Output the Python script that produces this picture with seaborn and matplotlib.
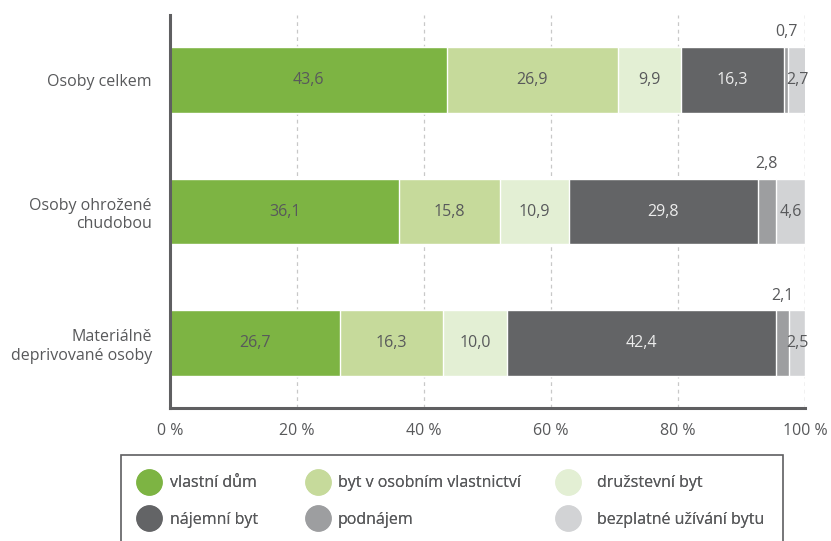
import numpy as np
import pandas as pd
import matplotlib
matplotlib.use("Agg")
import matplotlib.pyplot as plt
from matplotlib.lines import Line2D
from matplotlib.patches import Rectangle
import seaborn as sns

# data
groups = ["Osoby celkem", "Osoby ohrožené\nchudobou", "Materiálně\ndeprivované osoby"]
categories = ["vlastní dům", "byt v osobním vlastnictví", "družstevní byt",
              "nájemní byt", "podnájem", "bezplatné užívání bytu"]
vlastni_dum = [43.6, 36.1, 26.7]
byt_osobni = [26.9, 15.8, 16.3]
druzstevni = [9.9, 10.9, 10.0]
najemni = [16.3, 29.8, 42.4]
podnajem = [0.7, 2.8, 2.1]
bezplatne = [2.7, 4.6, 2.5]
x_ticks = [0, 20, 40, 60, 80, 100]

colors = ["#7db443", "#c6da9b", "#e3efd4", "#636466", "#9d9ea0", "#d2d3d5"]
text_color = "#58595b"
frame_color = "#5f5f61"

sns.set_style("white")
plt.rcParams["font.family"] = ["Open Sans", "DejaVu Sans"]

values = np.array([vlastni_dum, byt_osobni, druzstevni, najemni, podnajem, bezplatne])
cum = values.cumsum(axis=0)

W, H = 831, 541
fig = plt.figure(figsize=(W / 100, H / 100), dpi=100)
ax = fig.add_axes([170 / W, 1 - 408 / H, 635 / W, 393 / H])

# stacked bars: draw the cumulative totals from the largest down
for i in range(len(categories) - 1, -1, -1):
    df = pd.DataFrame({"group": groups, "val": cum[i]})
    sns.barplot(data=df, x="val", y="group", orient="h", color=colors[i],
                width=0.5, saturation=1, ax=ax, zorder=2)

# value labels
for i in range(len(categories)):
    for j in range(len(groups)):
        v = values[i, j]
        center = cum[i, j] - v / 2
        label = f"{v:.1f}".replace(".", ",")
        if i == 4:
            ax.text(center, j - 0.36, label, ha="center", va="center",
                    fontsize=11.5, color=text_color)
        else:
            c = "#ececec" if i == 3 else text_color
            ax.text(center, j, label, ha="center", va="center",
                    fontsize=11.5, color=c, zorder=3)

ax.set_xlim(0, 100)
ax.set_ylim(2.49, -0.49)
ax.set_xticks(x_ticks)
ax.set_xticklabels([f"{t} %" for t in x_ticks], fontsize=11.5, color=text_color)
ax.tick_params(axis="x", length=0, pad=11)
ax.tick_params(axis="y", length=0, pad=13, labelsize=11.5, labelcolor=text_color)
for lab in ax.get_yticklabels():
    lab.set_horizontalalignment("right")
ax.set_xlabel("")
ax.set_ylabel("")
ax.xaxis.grid(True, linestyle=(0, (3, 3)), color="#c8c8c8", linewidth=0.9, zorder=0)
ax.set_axisbelow(True)
for s in ["top", "right"]:
    ax.spines[s].set_visible(False)
for s in ["left", "bottom"]:
    ax.spines[s].set_color(frame_color)
    ax.spines[s].set_linewidth(2.2)
ax.axvline(100, linestyle=(0, (3, 3)), color="#c8c8c8", linewidth=0.9, zorder=0)

# legend: three columns, each its own legend so the columns sit where they should
fs = 11.5
fs_px = fs * 100 / 72
hl = 1.6
col_circle_x = [149, 318, 568]
col_text_x = [170, 338, 597]
for c in range(3):
    ks = [c, c + 3]
    handles = [Line2D([], [], marker="o", linestyle="none", markersize=18,
                      markerfacecolor=colors[k], markeredgecolor=colors[k]) for k in ks]
    left = col_circle_x[c] - hl * fs_px / 2
    pad = (col_text_x[c] - (left + hl * fs_px)) / fs_px
    leg = fig.legend(handles, [categories[k] for k in ks], loc="center left",
                     bbox_to_anchor=(left / W, 1 - 501.5 / H), frameon=False,
                     fontsize=fs, labelcolor=text_color, handlelength=hl,
                     handletextpad=pad, labelspacing=1.27, borderpad=0,
                     borderaxespad=0)
    fig.add_artist(leg)

fig.add_artist(Rectangle((121 / W, -0.02), (783 - 121) / W, 1 - 455 / H + 0.02,
                         transform=fig.transFigure, fill=False,
                         edgecolor=frame_color, linewidth=1.2))

fig.savefig("out.png", dpi=100)
